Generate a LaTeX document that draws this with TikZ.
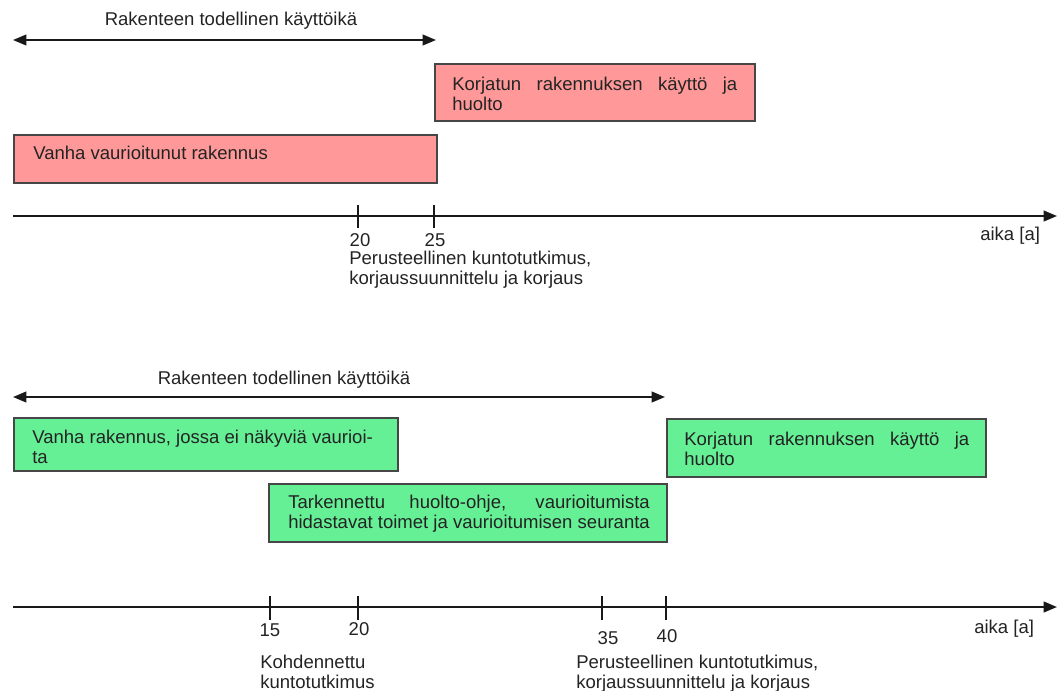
\documentclass[tikz,border=0pt]{standalone}
\usepackage{fontspec}
\setmainfont{Liberation Sans}
\usetikzlibrary{arrows.meta}
\definecolor{pinkfill}{RGB}{255,153,153}
\definecolor{greenfill}{RGB}{102,240,150}
\definecolor{boxline}{RGB}{70,70,70}
\definecolor{txt}{RGB}{35,35,35}
\definecolor{axline}{RGB}{25,25,25}
\newlength\mylinew
\begin{document}
\begin{tikzpicture}[x=0.75pt,y=-0.75pt,
  every node/.style={font=\fontsize{13.9pt}{15pt}\selectfont, text=txt, inner sep=0pt},
  pinkbox/.style={draw=boxline, line width=1.4pt, fill=pinkfill, anchor=north west},
  greenbox/.style={draw=boxline, line width=1.4pt, fill=greenfill, anchor=north west},
  lbl/.style={anchor=base west},
  num/.style={anchor=base},
  axis/.style={draw=axline, line width=1.5pt, -{Triangle[length=10pt,width=8pt]}},
  span/.style={draw=axline, line width=1.5pt, {Triangle[length=10pt,width=8pt]}-{Triangle[length=10pt,width=8pt]}},
  tick/.style={draw=axline, line width=1.2pt}]
\useasboundingbox (0,0) rectangle (1057,690);

% ---------------- top diagram ----------------
\coordinate (s1a) at (13,40);
\coordinate (s1b) at (436,40);
\draw[span] (s1a) -- (s1b);
\node[anchor=base] (title1) at (231,25) {Rakenteen todellinen käyttöikä};

\node[pinkbox, minimum width=240pt, minimum height=42.75pt] (pk2) at (434,63) {};
\node[lbl] (pk2t) at (452,90) {\begin{tabular}[t]{@{}l@{}}\makebox[213.75pt][s]{Korjatun rakennuksen käyttö ja}\\ huolto\end{tabular}};

\node[pinkbox, minimum width=317.25pt, minimum height=36pt] (pk1) at (13,134) {};
\node[lbl] (pk1t) at (33,159) {Vanha vaurioitunut rakennus};

\coordinate (ax1a) at (13,216);
\coordinate (ax1b) at (1057,216);
\draw[axis] (ax1a) -- (ax1b);
\coordinate (tk1a) at (358,205); \coordinate (tk1b) at (358,228);
\coordinate (tk2a) at (434,205); \coordinate (tk2b) at (434,228);
\draw[tick] (tk1a) -- (tk1b);
\draw[tick] (tk2a) -- (tk2b);
\node[num] (n20a) at (360,246) {20};
\node[num] (n25a) at (435,246) {25};
\node[lbl] (pt1) at (349,264) {\begin{tabular}[t]{@{}l@{}}Perusteellinen kuntotutkimus,\\ korjaussuunnittelu ja korjaus\end{tabular}};
\node[lbl] (aika1) at (980,240) {aika [a]};

% ---------------- bottom diagram ----------------
\node[anchor=base] (title2) at (284,384) {Rakenteen todellinen käyttöikä};
\coordinate (s2a) at (13,397);
\coordinate (s2b) at (665,397);
\draw[span] (s2a) -- (s2b);

\node[greenbox, minimum width=288pt, minimum height=39.75pt] (gv) at (13,417) {};
\node[lbl] (gvt) at (32,443) {\begin{tabular}[t]{@{}l@{}}Vanha rakennus, jossa ei näkyviä vaurioi-\\ ta\end{tabular}};

\node[greenbox, minimum width=239.25pt, minimum height=43.5pt] (gk) at (666,418) {};
\node[lbl] (gkt) at (684,445) {\begin{tabular}[t]{@{}l@{}}\makebox[213.75pt][s]{Korjatun rakennuksen käyttö ja}\\ huolto\end{tabular}};

\node[greenbox, minimum width=298.5pt, minimum height=43.5pt] (gt) at (268,483) {};
\node[lbl] (gtt) at (288,508) {\begin{tabular}[t]{@{}l@{}}\settowidth{\mylinew}{hidastavat toimet ja vaurioitumisen seuranta}\makebox[\mylinew][s]{Tarkennettu huolto-ohje, vaurioitumista}\\ hidastavat toimet ja vaurioitumisen seuranta\end{tabular}};

\coordinate (ax2a) at (13,607);
\coordinate (ax2b) at (1057,607);
\draw[axis] (ax2a) -- (ax2b);
\coordinate (tk3a) at (270,596); \coordinate (tk3b) at (270,620);
\coordinate (tk4a) at (358,596); \coordinate (tk4b) at (358,620);
\coordinate (tk5a) at (602,596); \coordinate (tk5b) at (602,620);
\coordinate (tk6a) at (666,596); \coordinate (tk6b) at (666,620);
\draw[tick] (tk3a) -- (tk3b);
\draw[tick] (tk4a) -- (tk4b);
\draw[tick] (tk5a) -- (tk5b);
\draw[tick] (tk6a) -- (tk6b);
\node[num] (n15) at (270,636) {15};
\node[num] (n20b) at (359,635) {20};
\node[num] (n35) at (608,644) {35};
\node[num] (n40) at (667,642) {40};
\node[lbl] (kt) at (260,668) {\begin{tabular}[t]{@{}l@{}}Kohdennettu\\ kuntotutkimus\end{tabular}};
\node[lbl] (pt2) at (576,668) {\begin{tabular}[t]{@{}l@{}}Perusteellinen kuntotutkimus,\\ korjaussuunnittelu ja korjaus\end{tabular}};
\node[lbl] (aika2) at (974,633) {aika [a]};
\end{tikzpicture}
\end{document}
